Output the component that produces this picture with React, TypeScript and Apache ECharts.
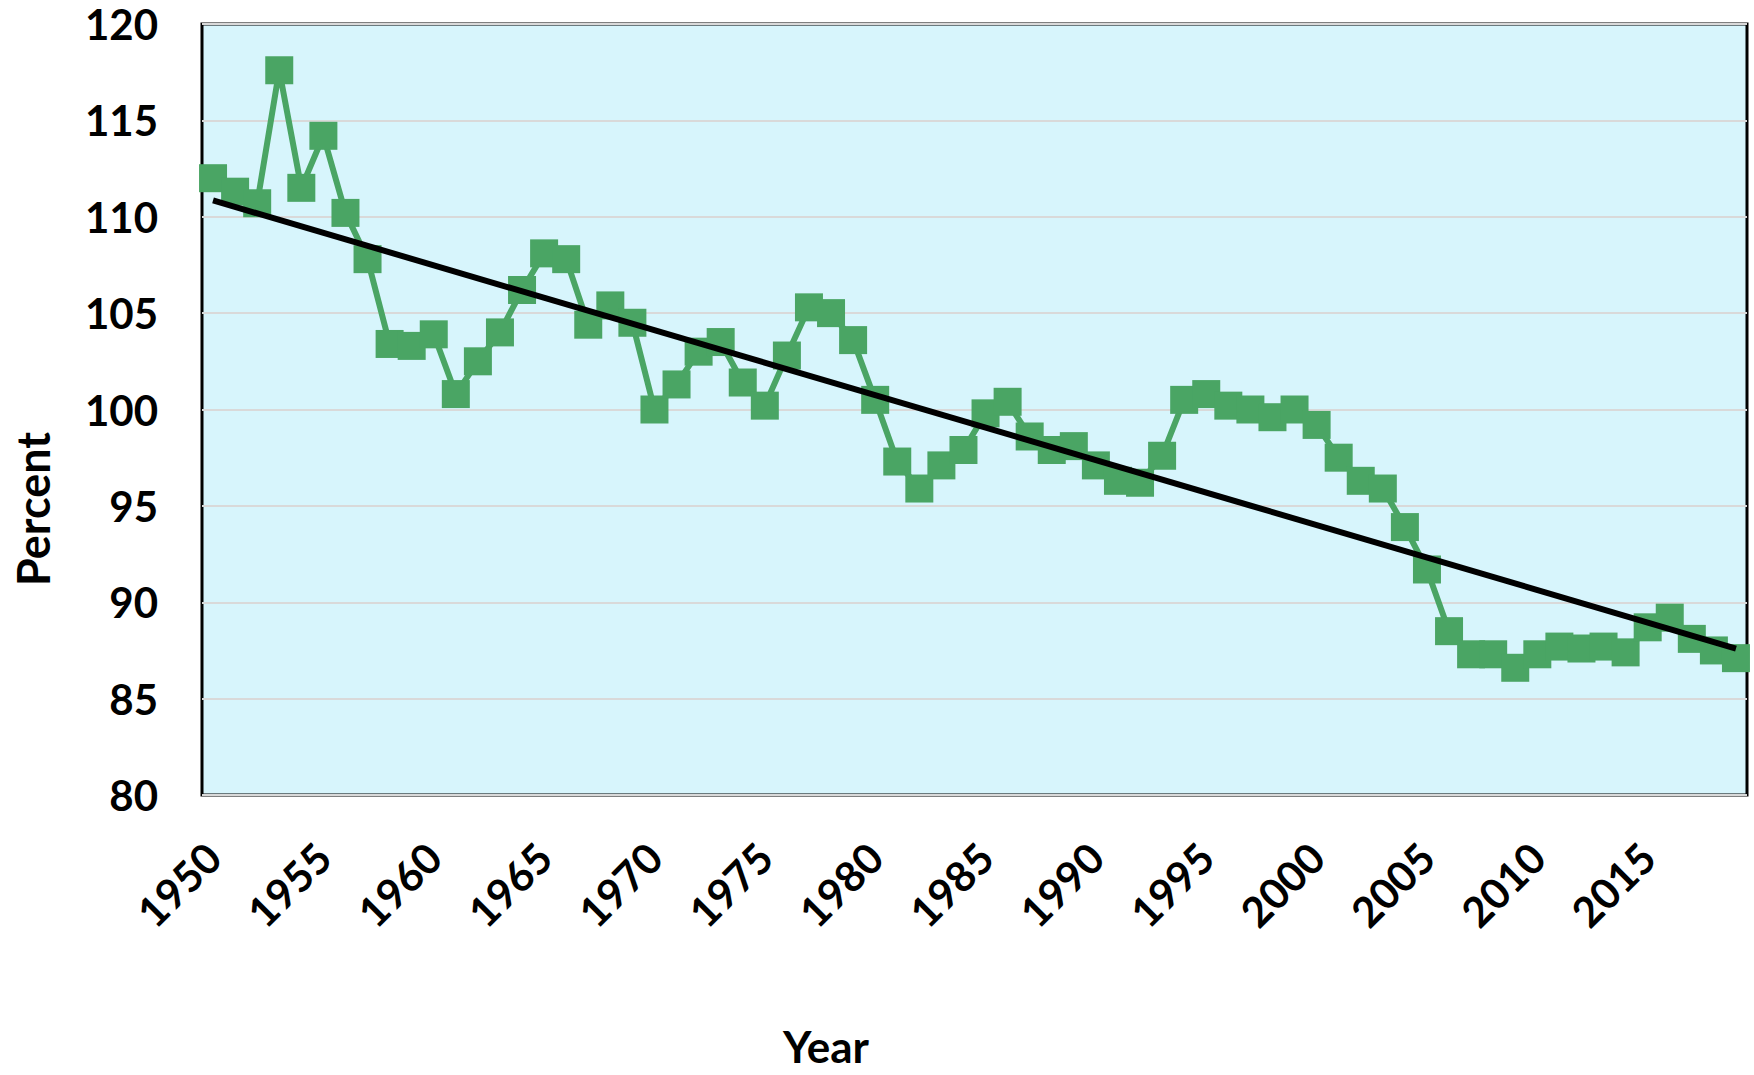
import React, { useEffect, useRef } from "react";
import * as echarts from "echarts";

const years: string[] = [
  "1950", "1951", "1952", "1953", "1954", "1955", "1956", "1957", "1958", "1959",
  "1960", "1961", "1962", "1963", "1964", "1965", "1966", "1967", "1968", "1969",
  "1970", "1971", "1972", "1973", "1974", "1975", "1976", "1977", "1978", "1979",
  "1980", "1981", "1982", "1983", "1984", "1985", "1986", "1987", "1988", "1989",
  "1990", "1991", "1992", "1993", "1994", "1995", "1996", "1997", "1998", "1999",
  "2000", "2001", "2002", "2003", "2004", "2005", "2006", "2007", "2008", "2009",
  "2010", "2011", "2012", "2013", "2014", "2015", "2016", "2017", "2018", "2019",
];

const percentValues: number[] = [
  112.0, 111.3, 110.7, 117.6, 111.5, 114.2, 110.2, 107.8, 103.4, 103.3,
  103.9, 100.8, 102.5, 104.0, 106.2, 108.1, 107.8, 104.4, 105.4, 104.5,
  100.0, 101.3, 103.0, 103.5, 101.4, 100.2, 102.8, 105.3, 105.0, 103.6,
  100.5, 97.3, 95.9, 97.1, 97.9, 99.8, 100.4, 98.6, 97.9, 98.1,
  97.1, 96.3, 96.2, 97.6, 100.5, 100.8, 100.2, 100.0, 99.6, 100.0,
  99.2, 97.5, 96.3, 95.9, 93.9, 91.7, 88.5, 87.3, 87.3, 86.6,
  87.3, 87.7, 87.6, 87.7, 87.4, 88.7, 89.2, 88.1, 87.5, 87.1,
];

// linear trendline end points
const trendYears: string[] = ["1950", "2019"];
const trendValues: number[] = [110.85, 87.6];

const yTicks = { min: 80, max: 120, interval: 5 };

const FONT = "Lato, 'Open Sans', sans-serif";

export default function App() {
  const ref = useRef<HTMLDivElement>(null);

  useEffect(() => {
    if (!ref.current) return;
    const chart = echarts.init(ref.current, undefined, { renderer: "svg" });
    chart.setOption({
      animation: false,
      backgroundColor: "#ffffff",
      grid: {
        left: 202,
        top: 24,
        width: 1545,
        height: 771,
        show: true,
        backgroundColor: "#D7F5FC",
        borderColor: "#000000",
        borderWidth: 3,
        containLabel: false,
      },
      xAxis: {
        type: "category",
        data: years,
        boundaryGap: true,
        axisLine: { show: false },
        axisTick: { show: false },
        splitLine: { show: false },
        axisLabel: {
          interval: 4,
          rotate: 45,
          margin: 55,
          color: "#000",
          fontSize: 42,
          fontWeight: "bold",
          fontFamily: FONT,
        },
      },
      yAxis: {
        type: "value",
        min: yTicks.min,
        max: yTicks.max,
        interval: yTicks.interval,
        axisLine: { show: false },
        axisTick: { show: false },
        splitLine: { show: true, lineStyle: { color: "#D9D9D9", width: 2 } },
        axisLabel: {
          margin: 44,
          color: "#000",
          fontSize: 42,
          fontWeight: "bold",
          fontFamily: FONT,
        },
      },
      graphic: [
        {
          type: "text",
          x: 826,
          y: 1046,
          style: {
            text: "Year",
            fill: "#000",
            fontSize: 44,
            fontWeight: "bold",
            fontFamily: FONT,
            align: "center",
            verticalAlign: "middle",
          },
        },
        {
          type: "text",
          x: 33,
          y: 509,
          rotation: Math.PI / 2,
          style: {
            text: "Percent",
            fill: "#000",
            fontSize: 45,
            fontWeight: "bold",
            fontFamily: FONT,
            align: "center",
            verticalAlign: "middle",
          },
        },
      ],
      series: [
        {
          name: "Percent",
          type: "line",
          data: percentValues,
          symbol: "rect",
          symbolSize: 28,
          showAllSymbol: true,
          lineStyle: { color: "#4AA564", width: 6 },
          itemStyle: { color: "#4AA564" },
          z: 2,
          markLine: {
            silent: true,
            symbol: ["none", "none"],
            label: { show: false },
            lineStyle: { color: "#000000", width: 6, type: "solid" },
            z: 5,
            data: [
              [
                { coord: [trendYears[0], trendValues[0]] },
                { coord: [trendYears[1], trendValues[1]] },
              ],
            ],
          },
        },
      ],
    });
    return () => chart.dispose();
  }, []);

  return (
    <div
      ref={ref}
      style={{ position: "fixed", left: 0, top: 0, width: 1754, height: 1075 }}
    />
  );
}
